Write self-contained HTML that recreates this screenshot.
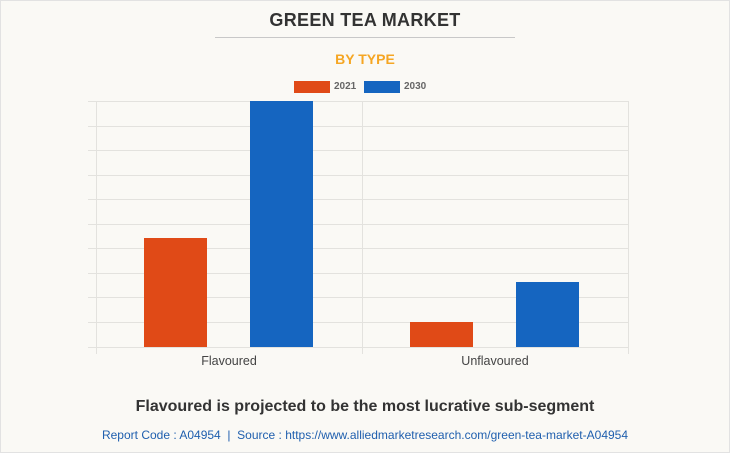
<!DOCTYPE html>
<html><head><style>
html,body{margin:0;padding:0}
body{width:730px;height:453px;background:#faf9f5;position:relative;font-family:"Liberation Sans",Arial,sans-serif;overflow:hidden}
.frame{position:absolute;left:0;top:0;width:728px;height:451px;border:1px solid #e2e2e2}
.t{position:absolute;left:0;width:730px;text-align:center}
</style></head><body>
<div class="frame"></div>
<div class="t" style="top:10px;font-size:18px;font-weight:bold;color:#333;letter-spacing:0.3px">GREEN TEA MARKET</div>
<div style="position:absolute;left:215px;top:37px;width:300px;height:1px;background:#c8c8c8"></div>
<div class="t" style="top:51px;font-size:14px;font-weight:bold;color:#f5a623">BY TYPE</div>
<div style="position:absolute;left:294px;top:81px;width:36px;height:12px;background:#e04a17"></div>
<div style="position:absolute;left:334px;top:81px;font-size:10px;font-weight:bold;color:#666">2021</div>
<div style="position:absolute;left:364px;top:81px;width:36px;height:12px;background:#1565c0"></div>
<div style="position:absolute;left:404px;top:81px;font-size:10px;font-weight:bold;color:#666">2030</div>
<svg style="position:absolute;left:0;top:0" width="730" height="453">
<g stroke="#e3e2de" stroke-width="1">
<line x1="88" x2="628" y1="101.5" y2="101.5"/><line x1="88" x2="628" y1="126.5" y2="126.5"/>
<line x1="88" x2="628" y1="150.5" y2="150.5"/><line x1="88" x2="628" y1="175.5" y2="175.5"/>
<line x1="88" x2="628" y1="199.5" y2="199.5"/><line x1="88" x2="628" y1="224.5" y2="224.5"/>
<line x1="88" x2="628" y1="248.5" y2="248.5"/><line x1="88" x2="628" y1="273.5" y2="273.5"/>
<line x1="88" x2="628" y1="297.5" y2="297.5"/><line x1="88" x2="628" y1="322.5" y2="322.5"/>
<line x1="88" x2="628" y1="347.5" y2="347.5"/>
<line x1="96.5" x2="96.5" y1="101" y2="354"/><line x1="362.5" x2="362.5" y1="101" y2="354"/>
<line x1="628.5" x2="628.5" y1="101" y2="354"/>
</g>
<rect x="144" y="238" width="63" height="109" fill="#e04a17"/>
<rect x="250" y="101" width="63" height="246" fill="#1565c0"/>
<rect x="410" y="322" width="63" height="25" fill="#e04a17"/>
<rect x="516" y="282" width="63" height="65" fill="#1565c0"/>
<text x="229" y="365" font-size="12.5" fill="#444" text-anchor="middle" font-family="Liberation Sans">Flavoured</text>
<text x="495" y="365" font-size="12.5" fill="#444" text-anchor="middle" font-family="Liberation Sans">Unflavoured</text>
</svg>
<div class="t" style="top:398px;font-size:16px;font-weight:bold;color:#333">Flavoured is projected to be the most lucrative sub-segment</div>
<div class="t" style="top:428px;font-size:12px;color:#1f5fae">Report Code : A04954 &nbsp;| &nbsp;Source : https://www.alliedmarketresearch.com/green-tea-market-A04954</div>
</body></html>
